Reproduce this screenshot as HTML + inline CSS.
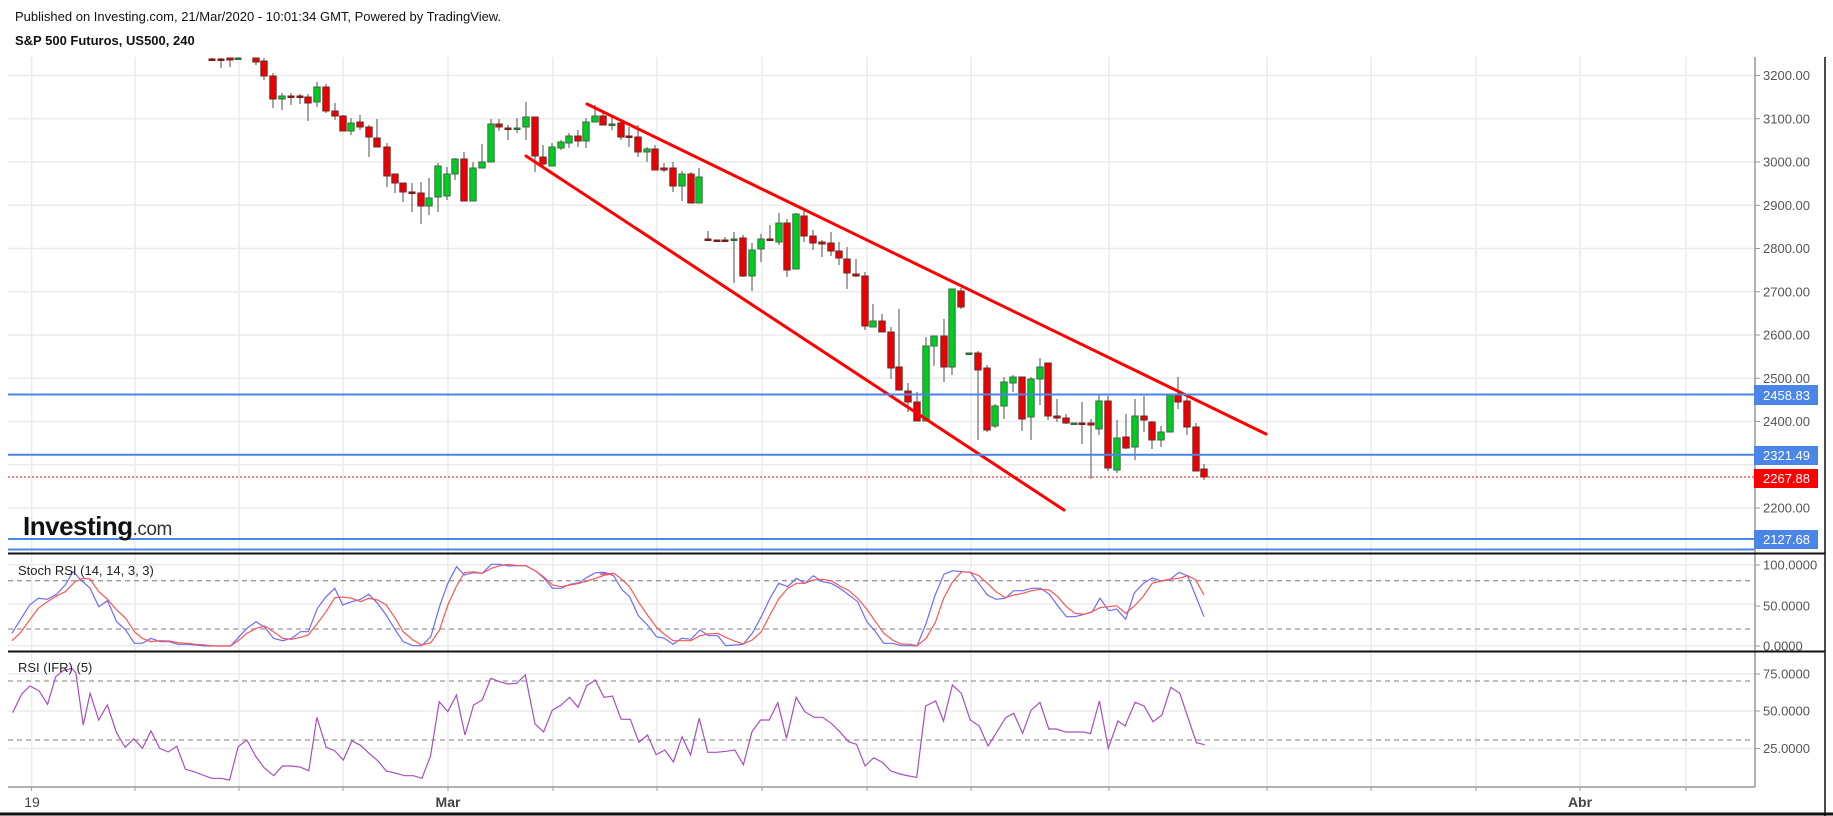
<!DOCTYPE html>
<html><head><meta charset="utf-8"><style>
html,body{margin:0;padding:0;background:#fff;}
svg{display:block;font-family:"Liberation Sans",Arial,sans-serif;}
</style></head><body>
<svg id="s" width="1833" height="816" viewBox="0 0 1833 816" xmlns="http://www.w3.org/2000/svg">
<rect width="1833" height="816" fill="#fff"/>
<text x="15" y="21" font-size="13" fill="#111">Published on Investing.com, 21/Mar/2020 - 10:01:34 GMT, Powered by TradingView.</text>
<text x="15" y="45" font-size="13" font-weight="bold" fill="#111">S&amp;P 500 Futuros, US500, 240</text>
<g id="grid" stroke="#ebebeb" stroke-width="1.5"></g>
<g stroke="#999" stroke-width="1.3" stroke-dasharray="5,4">
<line x1="8" y1="580.7" x2="1755" y2="580.7"/><line x1="8" y1="629" x2="1755" y2="629"/>
<line x1="8" y1="681" x2="1755" y2="681"/><line x1="8" y1="740" x2="1755" y2="740"/>
</g>
<g id="candles"></g>
<g stroke="#f00" stroke-width="3" stroke-linecap="round">
<line x1="587" y1="104" x2="1266" y2="434"/>
<line x1="526" y1="156" x2="1064" y2="510"/>
</g>
<g stroke="#4a86e8" stroke-width="2">
<line x1="8" y1="394.5" x2="1755" y2="394.5"/>
<line x1="8" y1="454.7" x2="1755" y2="454.7"/>
<line x1="8" y1="539" x2="1755" y2="539"/>
<line x1="8" y1="549.5" x2="1755" y2="549.5"/>
</g>
<line x1="8" y1="477" x2="1755" y2="477" stroke="#f00" stroke-width="1" stroke-dasharray="2,2"/>
<polyline id="sb" fill="none" stroke="#6b6bff" stroke-width="1.2"/>
<polyline id="sr" fill="none" stroke="#ff5555" stroke-width="1.2"/>
<polyline id="rsi" fill="none" stroke="#a84fc0" stroke-width="1.2"/>
<text x="18" y="575" font-size="13" fill="#222">Stoch RSI (14, 14, 3, 3)</text>
<text x="18" y="672" font-size="13" fill="#222">RSI (IFR) (5)</text>
<text x="23" y="535" font-size="26" font-weight="bold" fill="#111" letter-spacing="-0.5">Investing<tspan font-size="19" font-weight="normal" fill="#333">.com</tspan></text>
<!-- axes -->
<line x1="1755" y1="57" x2="1755" y2="787" stroke="#999" stroke-width="1.5"/>
<line x1="8" y1="787" x2="1755" y2="787" stroke="#999" stroke-width="1.5"/>
<line x1="1825" y1="57" x2="1825" y2="816" stroke="#111" stroke-width="1.5"/>
<line x1="8" y1="553.5" x2="1825" y2="553.5" stroke="#111" stroke-width="2"/>
<line x1="8" y1="651.5" x2="1825" y2="651.5" stroke="#111" stroke-width="2"/>
<line x1="0" y1="814" x2="1833" y2="814" stroke="#111" stroke-width="3"/>
<g id="axlab" font-size="13" fill="#555"></g>
<g font-size="13" fill="#fff">
<rect x="1754" y="385" width="64" height="20" fill="#4a86e8"/><text x="1763" y="400">2458.83</text>
<rect x="1754" y="446" width="64" height="19" fill="#4a86e8"/><text x="1763" y="460">2321.49</text>
<rect x="1754" y="469" width="64" height="19" fill="#f00"/><text x="1763" y="483">2267.88</text>
<rect x="1754" y="530" width="64" height="19" fill="#4a86e8"/><text x="1763" y="544">2127.68</text>
</g>
<g font-size="14" fill="#444" text-anchor="middle">
<text x="32" y="807">19</text><text x="448" y="807" font-weight="bold">Mar</text><text x="1580" y="807" font-weight="bold">Abr</text>
</g>
</svg>
<script>
var NS="http://www.w3.org/2000/svg";
function el(p,t,a){var e=document.createElementNS(NS,t);for(var k in a)e.setAttribute(k,a[k]);p.appendChild(e);return e;}
var g=document.getElementById('grid');
var vx=[31.6,135,239,343,448,553,657,762,867,971,1109,1267,1371,1476,1580,1686];
vx.forEach(function(x){el(g,'line',{x1:x,y1:57,x2:x,y2:787});});
var hy=[75.5,118.75,162,205.25,248.5,291.75,335,378.25,421.5,464.75,508,564.7,604,645.7,673.7,711,748.5];
hy.forEach(function(y){el(g,'line',{x1:8,y1:y,x2:1755,y2:y});});
var ax=document.getElementById('axlab');
var labs=[[75.5,"3200.00"],[118.75,"3100.00"],[162,"3000.00"],[205.25,"2900.00"],[248.5,"2800.00"],[291.75,"2700.00"],[335,"2600.00"],[378.25,"2500.00"],[421.5,"2400.00"],[508,"2200.00"],[565,"100.0000"],[606,"50.0000"],[646,"0.0000"],[674,"75.0000"],[711,"50.0000"],[748.5,"25.0000"]];
labs.forEach(function(l){el(ax,'line',{x1:1755,y1:l[0],x2:1760,y2:l[0],stroke:'#999'});var t=el(ax,'text',{x:1763,y:l[0]+4.5});t.textContent=l[1];});
vx.forEach(function(x){el(ax,'line',{x1:x,y1:787,x2:x,y2:791,stroke:'#999'});});
var C=[[212,59,60,58,61],[221,59,60,58,68],[230,58,60,58,67],[238,59,58,58,60],[256,58,62,58,65],[264,61,76,58,80],[273,76,99,73,108],[282,99,96,93,110],[291,96,97,93,105],[300,96,97,94,104],[308,97,103,94,121],[317,102,87,82,107],[326,87,111,84,113],[335,111,116,103,120],[343,116,131,115,131],[351,131,123,118,135],[360,122,127,115,130],[369,127,137,125,157],[377,138,147,119,147],[387,147,176,143,187],[395,174,183,174,193],[403,183,192,183,202],[412,192,193,183,212],[421,193,206,182,224],[429,206,198,178,215],[438,197,166,163,212],[447,196,174,167,200],[455,174,159,158,180],[464,159,201,152,201],[473,201,168,162,201],[482,168,162,144,168],[491,162,124,119,162],[499,124,127,119,131],[508,128,129,125,140],[517,129,128,118,133],[526,127,117,102,140],[535,117,156,117,172],[543,157,164,145,168],[552,166,147,143,166],[561,148,142,140,150],[569,143,136,133,148],[578,136,141,130,147],[586,141,122,118,148],[595,122,116,105,122],[603,116,125,112,125],[612,125,124,117,130],[621,123,137,119,140],[629,136,137,127,147],[638,137,152,125,157],[647,152,149,147,162],[655,149,170,145,170],[664,168,170,163,172],[673,168,186,162,192],[682,186,174,171,201],[691,174,203,172,203],[699,203,177,168,203],[708,239,240,231,240],[717,240,241,240,241],[725,240,241,237,241],[734,240,239,232,283],[743,238,276,235,277],[752,276,250,243,291],[761,249,239,234,262],[770,239,240,225,241],[779,242,223,213,245],[787,223,270,219,277],[796,269,214,213,269],[804,216,236,210,242],[813,236,243,230,250],[822,242,244,240,257],[831,243,251,232,256],[839,251,258,242,265],[847,259,273,247,289],[856,274,276,259,277],[865,276,326,272,330],[873,327,321,304,327],[882,321,332,314,332],[891,332,368,327,379],[899,367,390,309,390],[908,391,402,383,412],[917,402,421,392,421],[926,421,346,337,421],[934,346,336,336,366],[944,336,367,319,382],[952,367,289,289,375],[961,291,307,288,309],[969,354,353,353,354],[978,353,370,351,440],[987,368,430,365,432],[995,426,406,404,428],[1004,406,382,377,419],[1013,383,377,375,392],[1022,377,419,377,431],[1031,417,379,377,440],[1040,379,367,358,405],[1048,363,416,363,420],[1057,416,418,399,422],[1066,418,423,414,424],[1074,424,423,423,424],[1082,423,424,402,444],[1091,423,425,419,479],[1099,429,401,395,435],[1108,401,468,396,471],[1117,470,438,420,473],[1126,437,448,414,449],[1135,447,416,399,460],[1144,416,420,396,432],[1152,422,440,421,449],[1161,440,432,426,447],[1170,432,394,394,432],[1178,394,402,377,409],[1187,401,427,397,435],[1196,427,471,423,471],[1204,469,477,464,480]];
var cg=document.getElementById('candles');
C.forEach(function(c){var x=c[0],o=c[1],cl=c[2],up=cl<o;var top=Math.min(o,cl),h=Math.abs(o-cl);
el(cg,'line',{x1:x,y1:c[3],x2:x,y2:c[4],stroke:'#777','stroke-width':1.3});
if(h<2){el(cg,'rect',{x:x-3.5,y:top-0.5,width:7,height:2.5,fill:up?'#2e6b3e':'#7a1a1a'});}
else el(cg,'rect',{x:x-3.2,y:top,width:6.4,height:h,fill:up?'#00cc22':'#ee0000',stroke:up?'#3d6b45':'#6b2a2a','stroke-width':1});});
function pts(a,ox,sx,oy){return a.map(function(p){return (ox+p[0]/sx).toFixed(1)+','+(oy+p[1]/3).toFixed(1);}).join(' ');}
var sb1=[[30,250],[75,165],[97,145],[120,148],[143,133],[165,105],[185,65],[205,90],[228,115],[250,170],[272,152],[295,215],[318,240],[340,280],[360,280],[382,265],[405,275],[428,275],[450,283],[475,283],[495,285],[518,288],[540,288],[583,288],[605,260],[625,235],[648,215],[670,232],[692,265],[715,272],[738,265],[760,245],[780,245],[803,175],[825,140],[847,115],[867,165],[890,155],[912,148],[933,133],[955,160],[977,195],[1000,240],[1020,275],[1045,287],[1067,287],[1090,260],[1112,170],[1133,100],[1155,50],[1175,75],[1198,68],[1220,70],[1243,43],[1265,43],[1287,48],[1310,47],[1330,47],[1355,63],[1375,83],[1398,115],[1420,115],[1442,103],[1465,98],[1485,82],[1507,68],[1530,67],[1550,75]];
var sr1=[[30,272],[52,248],[75,210],[97,175],[120,155],[143,138],[165,125],[190,95],[210,85],[228,87],[250,125],[272,148],[295,180],[318,205],[340,245],[360,265],[382,275],[405,272],[428,273],[450,278],[475,280],[495,283],[518,285],[540,288],[583,288],[605,270],[625,250],[648,235],[670,228],[692,245],[715,265],[738,268],[760,262],[780,255],[803,220],[825,185],[847,143],[867,141],[890,145],[912,155],[933,145],[955,150],[977,165],[1000,205],[1020,245],[1045,270],[1067,285],[1090,278],[1112,240],[1133,165],[1155,108],[1175,68],[1198,65],[1220,70],[1243,55],[1265,47],[1287,43],[1310,47],[1330,47],[1355,63],[1375,80],[1398,105],[1420,110],[1442,105],[1465,100],[1485,93],[1507,85],[1530,75],[1550,72]];
var sb2=[[0,67],[15,68],[35,78],[55,118],[75,140],[97,197],[120,225],[143,260],[163,265],[185,283],[207,265],[230,268],[253,240],[275,257],[298,257],[318,287],[340,285],[362,283],[385,250],[408,200],[430,145],[452,100],[475,110],[497,85],[518,100],[540,77],[562,95],[585,100],[607,115],[630,135],[652,155],[675,215],[697,245],[718,280],[740,280],[762,287],[785,287],[802,288],[825,220],[848,135],[870,73],[892,62],[915,65],[937,67],[958,100],[980,135],[1002,148],[1025,145],[1047,122],[1070,122],[1092,115],[1115,115],[1137,133],[1158,167],[1180,200],[1202,200],[1225,193],[1245,186],[1265,145],[1287,182],[1307,177],[1330,208],[1352,128],[1375,100],[1397,84],[1420,93],[1440,90],[1465,67],[1487,78],[1528,200]];
var sr2=[[0,73],[15,72],[35,70],[55,88],[75,110],[97,155],[120,195],[143,232],[163,253],[185,272],[207,272],[230,272],[253,257],[275,252],[298,250],[318,262],[340,273],[362,282],[385,270],[408,245],[430,195],[452,147],[475,115],[497,100],[518,100],[540,90],[562,88],[585,92],[607,108],[630,122],[652,145],[675,178],[697,215],[718,250],[740,270],[762,282],[785,283],[802,287],[825,265],[848,218],[870,143],[892,95],[915,65],[937,67],[958,77],[980,100],[1002,125],[1025,143],[1047,135],[1070,130],[1092,122],[1115,118],[1137,120],[1158,140],[1180,170],[1202,190],[1225,193],[1245,185],[1265,173],[1287,170],[1307,167],[1330,190],[1352,168],[1375,138],[1397,100],[1420,93],[1440,88],[1465,85],[1487,77],[1507,90],[1528,135]];
document.getElementById('sb').setAttribute('points',pts(sb1,0,2.53,550)+' '+pts(sb2,600,2.53,550));
document.getElementById('sr').setAttribute('points',pts(sr1,0,2.53,550)+' '+pts(sr2,600,2.53,550));
var r1=[[22,218],[38,162],[52,138],[68,152],[83,193],[97,110],[110,92],[125,85],[132,98],[145,255],[157,160],[172,240],[187,195],[203,278],[218,322],[233,296],[248,325],[263,273],[278,325],[293,336],[308,319],[323,388],[338,395],[353,405],[369,415],[385,415],[400,420],[415,320],[430,300],[445,348],[460,383],[477,407],[492,378],[508,378],[522,381],[538,392],[552,232],[568,322],[583,332],[598,360],[613,303],[628,316],[643,340],[658,362],[673,393],[690,400],[705,407],[720,407],[735,415],[750,348],[765,185],[780,215],[795,165],[810,285],[825,195],[840,180],[855,115],[870,125],[885,132],[900,130],[915,105],[932,252],[947,276],[962,211],[977,196],[992,172],[1007,202],[1022,137],[1037,120],[1052,172],[1067,168],[1082,238],[1098,238],[1113,307],[1128,285],[1143,344],[1158,330],[1173,366],[1188,290],[1203,345],[1218,235],[1233,337],[1248,337],[1265,334],[1280,330],[1295,374],[1310,275],[1325,240],[1340,240],[1355,188],[1370,295],[1387,172],[1402,215],[1418,232],[1433,232],[1448,250],[1463,275],[1478,305],[1492,313],[1507,378],[1522,353],[1537,367],[1552,393]];
var r2=[[0,402],[15,408],[28,412],[43,198],[60,183],[73,243],[88,135],[103,160],[118,240],[133,258],[148,318],[163,275],[178,232],[191,220],[206,280],[220,211],[235,187],[250,267],[263,267],[278,276],[293,276],[308,276],[320,281],[335,183],[350,325],[366,243],[378,258],[395,187],[410,198],[425,245],[440,225],[455,142],[470,160],[498,308],[512,314]];
document.getElementById('rsi').setAttribute('points',pts(r1,0,1.742,640)+' '+pts(r2,900,1.68,640));
</script>
</body></html>
